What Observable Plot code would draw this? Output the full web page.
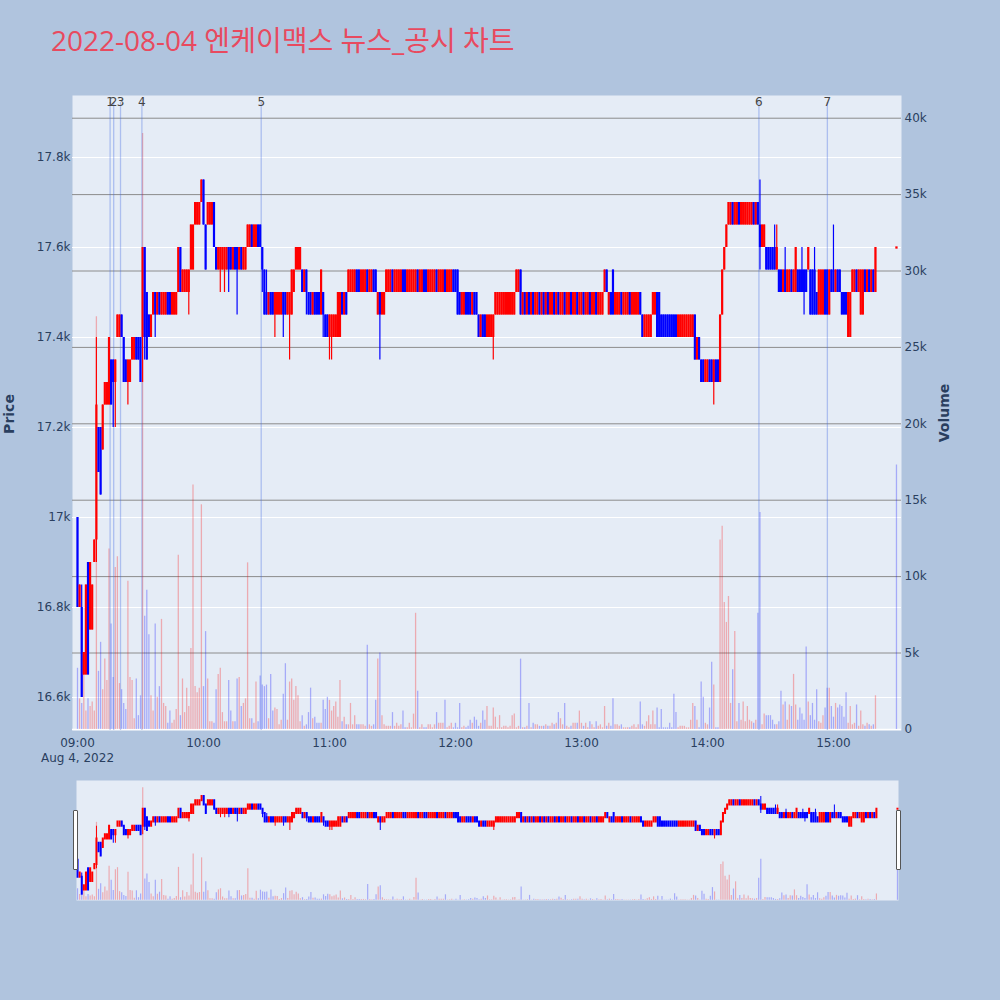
<!DOCTYPE html>
<html><head><meta charset="utf-8">
<script src="https://cdn.jsdelivr.net/npm/d3@7"></script>
<script src="https://cdn.jsdelivr.net/npm/@observablehq/plot@0.6"></script>
<style>
html,body{margin:0;padding:0;background:#b0c4de;}
#wrap{position:relative;width:1000px;height:1000px;overflow:hidden;font-family:"DejaVu Sans",sans-serif;color:#2a3f5f;}
#wrap svg{position:absolute;left:0;}
#title{position:absolute;left:51px;top:26px;font-size:28px;line-height:28px;color:#e84a5f;white-space:nowrap;font-family:"Open Sans","Noto Sans CJK KR",sans-serif;}
.atitle{position:absolute;font-size:14px;font-weight:bold;white-space:nowrap;transform:translate(-50%,-50%) rotate(-90deg);}
.grab{position:absolute;width:5px;height:60px;box-sizing:border-box;background:#fff;border:1px solid #555;border-radius:1px;}
</style></head>
<body><div id="wrap"></div>
<script>
// ---------- data ----------
const titleText = "2022-08-04 엔케이맥스 뉴스_공시 차트";
const day = "2022-08-04";
const priceTicks = [16600,16800,17000,17200,17400,17600,17800];
const volumeTicks = [0,5000,10000,15000,20000,25000,30000,35000,40000];
const hourTicks = ["09:00","10:00","11:00","12:00","13:00","14:00","15:00"];
const dateLabel = "Aug 4, 2022";
const newsLabels = ["1","2","3","4","5","6","7"];
const newsTimes = ["09:15:31","09:17:14","09:20:29","09:30:40","10:27:29","14:24:30","14:57:06"];
// minute offsets from 09:00 (continuous session 09:00-15:20, closing auction 15:30)
const minutes = d3.range(0, 381).concat([390]);
const O = [
17000,16800,16800,16650,16650,16900,16750,16750,16900,16950,
17200,17200,17150,17250,17250,17250,17350,17350,17300,17400,
17400,17450,17400,17350,17300,17300,17350,17350,17400,17400,
17400,17400,17600,17500,17450,17400,17450,17500,17450,17500,
17450,17450,17450,17500,17500,17450,17450,17450,17500,17600,
17500,17500,17500,17500,17550,17550,17650,17650,17650,17700,
17750,17650,17650,17650,17650,17700,17600,17550,17550,17550,
17550,17550,17600,17600,17550,17600,17600,17550,17600,17550,
17550,17600,17600,17650,17600,17600,17650,17650,17600,17550,
17500,17450,17500,17500,17450,17450,17450,17450,17500,17500,
17450,17450,17450,17500,17550,17550,17550,17550,17500,17550,
17500,17500,17450,17500,17500,17500,17450,17500,17450,17450,
17400,17400,17400,17400,17400,17400,17500,17450,17500,17500,
17500,17500,17500,17550,17550,17500,17500,17500,17550,17500,
17500,17550,17550,17450,17500,17450,17450,17500,17500,17500,
17550,17500,17500,17500,17500,17550,17550,17500,17500,17500,
17500,17500,17550,17500,17500,17550,17550,17500,17500,17500,
17500,17550,17500,17500,17500,17550,17500,17500,17500,17550,
17550,17550,17500,17450,17450,17500,17500,17500,17450,17500,
17500,17450,17400,17450,17450,17400,17400,17400,17400,17450,
17450,17450,17450,17450,17450,17450,17450,17450,17450,17500,
17500,17550,17450,17500,17450,17500,17450,17500,17450,17450,
17500,17450,17500,17450,17500,17450,17450,17500,17450,17500,
17450,17450,17500,17450,17450,17500,17450,17450,17500,17450,
17450,17500,17450,17450,17500,17450,17450,17500,17450,17450,
17450,17500,17550,17450,17500,17550,17450,17450,17450,17500,
17450,17450,17450,17500,17450,17450,17450,17450,17500,17450,
17400,17400,17400,17400,17450,17450,17500,17500,17450,17450,
17450,17450,17450,17450,17450,17450,17400,17400,17400,17400,
17400,17400,17400,17400,17450,17350,17400,17350,17350,17300,
17300,17350,17350,17300,17350,17350,17300,17450,17550,17600,
17650,17650,17700,17650,17650,17700,17650,17650,17650,17650,
17650,17650,17700,17650,17700,17650,17600,17600,17600,17600,
17600,17600,17600,17550,17550,17550,17500,17550,17500,17500,
17550,17500,17500,17550,17550,17550,17550,17550,17550,17550,
17550,17550,17500,17450,17450,17450,17550,17550,17450,17550,
17550,17500,17550,17550,17500,17500,17500,17400,17400,17500,
17500,17550,17500,17450,17450,17550,17500,17550,17500,17550,17500,
17600];
const H = [
17000,16850,16850,16700,16850,16900,16900,16850,16950,17400,
17200,17200,17250,17300,17300,17400,17350,17350,17350,17450,
17450,17450,17400,17350,17350,17350,17400,17400,17400,17400,
17400,17600,17600,17500,17450,17450,17500,17500,17500,17500,
17500,17500,17500,17500,17500,17500,17500,17500,17600,17600,
17550,17550,17550,17550,17650,17650,17700,17700,17700,17750,
17750,17650,17700,17700,17700,17700,17600,17600,17600,17600,
17600,17600,17600,17600,17600,17600,17600,17600,17600,17600,
17600,17650,17650,17650,17650,17650,17650,17650,17600,17550,
17550,17500,17500,17500,17500,17500,17500,17500,17500,17500,
17500,17500,17550,17550,17600,17600,17600,17550,17550,17550,
17500,17500,17500,17500,17500,17500,17550,17500,17450,17450,
17450,17450,17450,17450,17500,17500,17500,17500,17500,17550,
17550,17550,17550,17550,17550,17550,17550,17550,17550,17550,
17550,17550,17550,17500,17500,17500,17500,17550,17550,17550,
17550,17550,17550,17550,17550,17550,17550,17550,17550,17550,
17550,17550,17550,17550,17550,17550,17550,17550,17550,17550,
17550,17550,17550,17550,17550,17550,17550,17550,17550,17550,
17550,17550,17500,17500,17500,17500,17500,17500,17500,17500,
17500,17450,17450,17450,17450,17450,17450,17450,17450,17500,
17500,17500,17500,17500,17500,17500,17500,17500,17500,17550,
17550,17550,17500,17500,17500,17500,17500,17500,17500,17500,
17500,17500,17500,17500,17500,17500,17500,17500,17500,17500,
17500,17500,17500,17500,17500,17500,17500,17500,17500,17500,
17500,17500,17500,17500,17500,17500,17500,17500,17500,17500,
17500,17550,17550,17500,17500,17550,17500,17500,17500,17500,
17500,17500,17500,17500,17500,17500,17500,17500,17500,17450,
17450,17450,17450,17450,17500,17500,17500,17500,17450,17450,
17450,17450,17450,17450,17450,17450,17450,17450,17450,17450,
17450,17450,17450,17450,17450,17400,17400,17350,17350,17350,
17350,17350,17350,17350,17350,17350,17450,17550,17600,17650,
17700,17700,17700,17700,17700,17700,17700,17700,17700,17700,
17700,17700,17700,17700,17700,17750,17650,17650,17600,17600,
17600,17600,17650,17650,17550,17550,17550,17600,17550,17550,
17550,17550,17600,17550,17550,17600,17550,17550,17600,17550,
17550,17600,17500,17550,17550,17550,17550,17550,17550,17550,
17650,17550,17550,17550,17500,17500,17500,17500,17500,17550,
17550,17550,17550,17550,17550,17550,17550,17550,17550,17550,17600,
17600];
const L = [
16800,16800,16600,16650,16650,16650,16750,16750,16900,16900,
17100,17050,17150,17250,17250,17250,17250,17200,17200,17400,
17400,17400,17300,17300,17250,17300,17350,17350,17350,17350,
17300,17300,17350,17350,17400,17400,17450,17400,17450,17450,
17450,17450,17450,17450,17450,17450,17450,17450,17500,17500,
17500,17500,17500,17450,17550,17550,17650,17650,17650,17700,
17650,17550,17650,17650,17650,17600,17550,17550,17500,17550,
17500,17550,17500,17550,17550,17550,17450,17550,17550,17550,
17550,17600,17600,17600,17600,17600,17600,17600,17500,17450,
17450,17450,17450,17450,17400,17450,17450,17450,17400,17450,
17450,17350,17450,17500,17550,17550,17550,17500,17500,17450,
17450,17450,17450,17450,17450,17450,17450,17400,17400,17400,
17350,17350,17400,17400,17400,17400,17450,17450,17450,17500,
17500,17500,17500,17500,17500,17500,17500,17500,17500,17500,
17500,17500,17500,17450,17350,17450,17450,17500,17500,17500,
17500,17500,17500,17500,17500,17500,17500,17500,17500,17500,
17500,17500,17500,17500,17500,17500,17500,17500,17500,17500,
17500,17500,17500,17500,17500,17500,17500,17500,17500,17500,
17500,17450,17450,17450,17450,17450,17450,17450,17450,17450,
17450,17400,17400,17400,17400,17400,17400,17400,17350,17450,
17450,17450,17450,17450,17450,17450,17450,17450,17450,17500,
17500,17450,17450,17450,17450,17450,17450,17450,17450,17450,
17450,17450,17450,17450,17450,17450,17450,17450,17450,17450,
17450,17450,17450,17450,17450,17450,17450,17450,17450,17450,
17450,17450,17450,17450,17450,17450,17450,17450,17450,17450,
17450,17500,17500,17450,17450,17450,17450,17450,17450,17450,
17450,17450,17450,17450,17450,17450,17450,17450,17450,17400,
17400,17400,17400,17400,17450,17450,17400,17400,17400,17400,
17400,17400,17400,17400,17400,17400,17400,17400,17400,17400,
17400,17400,17400,17400,17350,17350,17350,17300,17300,17300,
17300,17300,17300,17250,17300,17300,17300,17450,17550,17600,
17650,17650,17650,17650,17650,17650,17650,17650,17650,17650,
17650,17650,17650,17650,17650,17550,17600,17600,17550,17550,
17550,17550,17550,17550,17500,17500,17500,17500,17500,17500,
17500,17500,17500,17500,17500,17500,17450,17500,17550,17450,
17450,17450,17450,17450,17450,17450,17450,17450,17450,17500,
17500,17500,17500,17500,17450,17450,17450,17400,17400,17500,
17500,17500,17500,17450,17450,17500,17500,17500,17500,17500,17500,
17600];
const C = [
16800,16850,16600,16700,16850,16650,16900,16850,16950,17250,
17100,17050,17250,17300,17300,17400,17250,17300,17350,17450,
17450,17400,17300,17300,17350,17350,17400,17400,17350,17350,
17300,17600,17400,17350,17400,17450,17500,17450,17500,17450,
17500,17500,17500,17450,17450,17500,17500,17500,17600,17500,
17550,17550,17550,17550,17650,17650,17700,17700,17700,17750,
17650,17550,17700,17700,17700,17600,17550,17600,17600,17600,
17600,17600,17550,17550,17600,17550,17550,17600,17550,17600,
17600,17650,17650,17600,17650,17650,17600,17600,17550,17450,
17450,17500,17450,17450,17500,17500,17500,17500,17450,17450,
17500,17500,17550,17550,17600,17600,17600,17500,17550,17500,
17450,17450,17500,17450,17450,17450,17550,17450,17400,17400,
17450,17450,17450,17450,17500,17500,17450,17500,17450,17550,
17550,17550,17550,17500,17500,17550,17550,17550,17500,17550,
17550,17500,17500,17500,17450,17500,17500,17550,17550,17550,
17500,17550,17550,17550,17550,17500,17500,17550,17550,17550,
17550,17550,17500,17550,17550,17500,17500,17550,17550,17550,
17550,17500,17550,17550,17550,17500,17550,17550,17550,17500,
17500,17450,17450,17500,17500,17450,17450,17450,17500,17450,
17450,17400,17450,17400,17400,17450,17450,17450,17450,17500,
17500,17500,17500,17500,17500,17500,17500,17500,17500,17550,
17550,17450,17500,17450,17500,17450,17500,17450,17500,17500,
17450,17500,17450,17500,17450,17500,17500,17450,17500,17450,
17500,17500,17450,17500,17500,17450,17500,17500,17450,17500,
17500,17450,17500,17500,17450,17500,17500,17450,17500,17500,
17500,17550,17500,17500,17450,17450,17500,17500,17500,17450,
17500,17500,17500,17450,17500,17500,17500,17500,17450,17400,
17450,17450,17450,17450,17500,17500,17400,17400,17400,17400,
17400,17400,17400,17400,17400,17400,17450,17450,17450,17450,
17450,17450,17450,17450,17350,17400,17350,17300,17300,17350,
17350,17300,17300,17350,17300,17300,17450,17550,17600,17650,
17700,17700,17650,17700,17700,17650,17700,17700,17700,17700,
17700,17700,17650,17700,17650,17600,17650,17650,17550,17550,
17550,17550,17550,17600,17500,17500,17550,17500,17550,17550,
17500,17550,17600,17500,17500,17500,17500,17500,17600,17450,
17450,17450,17450,17550,17550,17550,17450,17450,17550,17500,
17500,17550,17500,17500,17450,17450,17450,17500,17500,17550,
17550,17500,17550,17550,17550,17500,17550,17500,17550,17500,17600,
17600];
const V = [
4000,2000,1700,3900,1200,2000,1500,1800,1200,27000,
3800,5700,2600,4600,3200,11800,6900,3400,10600,11300,
3000,2600,1700,1300,9700,3400,3200,700,3300,900,
2200,39000,7400,9100,6200,2200,1200,6900,2100,2800,
7200,1700,1500,400,1200,400,600,1300,11400,900,
3300,1100,2700,1500,5300,16000,2800,2400,2700,14700,
2800,6400,3300,500,500,400,2600,3600,4000,1100,
500,500,3200,1200,500,500,3300,3400,1500,1700,
2000,10900,700,700,400,3100,500,3500,2900,2800,
2900,700,3600,1200,1400,1300,300,600,2300,4300,
600,3100,3300,1900,2800,2200,500,900,200,300,
1100,2700,700,800,400,400,400,1900,1300,2100,
1900,1200,1500,1800,800,3200,500,800,300,300,
1700,300,900,300,300,300,300,200,5500,300,
200,300,1900,4600,5000,900,300,200,200,200,
1100,200,400,200,300,1200,100,100,400,100,
1000,7600,2500,100,300,100,100,300,300,100,
300,1100,400,400,400,1900,100,200,400,100,
400,100,1700,100,200,100,200,600,400,800,
600,200,400,1200,600,1500,200,200,1400,800,
100,900,100,200,200,100,200,900,1000,100,
200,4600,100,100,200,1700,100,400,300,300,
200,200,200,300,200,200,400,300,400,1100,
700,300,1700,200,100,200,400,400,400,1200,
400,200,400,100,500,300,100,500,200,300,
100,1500,200,400,200,2000,300,300,200,300,
100,100,100,100,200,300,100,300,1800,300,
200,500,900,300,1200,300,1400,100,1300,100,
100,100,400,100,2300,1100,100,200,200,200,
100,100,600,1700,1500,600,100,3100,2100,400,
300,1400,4400,2900,100,100,12400,13300,8300,7000,
8700,1700,3900,6400,500,1700,600,1800,500,1500,
600,500,400,600,7600,14200,300,1000,900,900,
900,600,300,300,500,2500,1600,1800,600,1600,
1500,3600,1600,600,1400,1000,600,5400,1800,900,
1700,600,2600,500,400,900,1400,2700,2700,1500,
800,1700,1400,1600,1500,800,2400,400,1500,300,
400,1600,200,1200,300,200,400,300,200,300,2200,
17300];

// ---------- build ----------
const wrap = document.getElementById("wrap");
const toDate = s => new Date(`${day}T${s.length === 5 ? s + ":00" : s}Z`);
const t0 = toDate(hourTicks[0]);
const MIN = 60000;
const bars = minutes.map((m, i) => ({t: new Date(+t0 + m * MIN), o: O[i], h: H[i], l: L[i], c: C[i], v: V[i]}));
const RED = "#ff0000", BLUE = "#0000ff";
const candleColor = d => d.c >= d.o ? RED : BLUE;
const volColor = d => d.c > d.o ? RED : BLUE;
const newsDates = newsTimes.map(toDate);
const hourDates = hourTicks.map(toDate);
const fmtHM = d3.utcFormat("%H:%M");

const xDomain = [new Date(+t0 - 2.38 * MIN), new Date(+t0 + 392.4 * MIN)];
const priceDomain = [16526.7, 17937.8];
const volDomain = [-72, 41486];

const style = {fontFamily: "'DejaVu Sans', sans-serif", fontSize: "12px", color: "#2a3f5f", background: "transparent", overflow: "visible"};
const main = {width: 1000, height: 770, marginTop: 95, marginRight: 99, marginBottom: 40, marginLeft: 72, style};

function place(svg, top) { svg.style.top = top + "px"; wrap.appendChild(svg); }

// layer 1: plot background + price grid
place(Plot.plot({...main,
  x: {type: "utc", domain: xDomain, axis: null},
  y: {domain: priceDomain, axis: null},
  marks: [
    Plot.frame({fill: "#e5ecf6", stroke: "none"}),
    Plot.gridY(priceTicks, {stroke: "#ffffff", strokeOpacity: 1, strokeWidth: 1})
  ]}), 0);

// layer 2: volume
place(Plot.plot({...main,
  x: {type: "utc", domain: xDomain, axis: null},
  y: {domain: volDomain, axis: null},
  marks: [
    Plot.gridY(volumeTicks.filter(v => v > 0), {stroke: "#8c8c8c", strokeOpacity: 1, strokeWidth: 1}),
    Plot.ruleY([volumeTicks[0]], {stroke: "#ffffff", strokeWidth: 1.5}),
    Plot.ruleX(bars, {x: "t", y1: 0, y2: "v", stroke: volColor, strokeOpacity: 0.28, strokeWidth: 1.3}),
    Plot.axisY(volumeTicks, {anchor: "right", tickFormat: d3.format("~s"), tickSize: 0, tickPadding: 3, label: null})
  ]}), 0);

// layer 3: candles, news markers, price & time axes
place(Plot.plot({...main,
  x: {type: "utc", domain: xDomain, axis: null},
  y: {domain: priceDomain, axis: null},
  marks: [
    Plot.ruleX(newsDates, {stroke: "royalblue", strokeOpacity: 0.35, strokeWidth: 1.3, insetTop: 7}),
    Plot.ruleX(bars, {x: "t", y1: "l", y2: "h", stroke: candleColor, strokeWidth: 1.2}),
    Plot.ruleX(bars, {x: "t", y1: "o", y2: "c", stroke: candleColor, strokeWidth: 2.2}),
    Plot.dot(bars.filter(d => d.o === d.c), {x: "t", y: "c", r: 1.3, symbol: "square", fill: candleColor}),
    Plot.text(newsLabels, {x: newsDates, text: d => d, frameAnchor: "top", dy: 2, fill: "#444", fontSize: 12}),
    Plot.axisY(priceTicks, {anchor: "left", tickFormat: d3.format("~s"), tickSize: 0, tickPadding: 2, label: null}),
    Plot.axisX(hourDates, {anchor: "bottom", tickSize: 0, tickPadding: 5, label: null, lineHeight: 1.3,
      tickFormat: d => +d === +t0 ? fmtHM(d) + "\n" + dateLabel : fmtHM(d)})
  ]}), 0);

// range slider (overview)
const sliderDomain = [new Date(+t0 - 0.5 * MIN), new Date(+t0 + 390.5 * MIN)];
const slider = {width: 1000, height: 140, marginTop: 10, marginRight: 102, marginBottom: 10, marginLeft: 76, style};
place(Plot.plot({...slider,
  x: {type: "utc", domain: sliderDomain, axis: null},
  y: {domain: volDomain, axis: null},
  marks: [
    Plot.frame({fill: "#e5ecf6", stroke: "none"}),
    Plot.ruleX(bars, {x: "t", y1: 0, y2: "v", stroke: volColor, strokeOpacity: 0.28, strokeWidth: 1.2})
  ]}), 770);
place(Plot.plot({...slider,
  x: {type: "utc", domain: sliderDomain, axis: null},
  y: {domain: priceDomain, axis: null},
  marks: [
    Plot.ruleX(bars, {x: "t", y1: "l", y2: "h", stroke: candleColor, strokeWidth: 1}),
    Plot.ruleX(bars, {x: "t", y1: "o", y2: "c", stroke: candleColor, strokeWidth: 2, strokeLinecap: "square"})
  ]}), 770);

// texts
const title = document.createElement("div"); title.id = "title"; title.textContent = titleText; wrap.appendChild(title);
const py = document.createElement("div"); py.className = "atitle"; py.textContent = "Price"; py.style.left = "9px"; py.style.top = "414px"; wrap.appendChild(py);
const vy = document.createElement("div"); vy.className = "atitle"; vy.textContent = "Volume"; vy.style.left = "944px"; vy.style.top = "413px"; wrap.appendChild(vy);
// range slider grabbers
for (const x of [73, 896]) { const g = document.createElement("div"); g.className = "grab"; g.style.left = x + "px"; g.style.top = "810px"; wrap.appendChild(g); }
</script>
</body></html>
